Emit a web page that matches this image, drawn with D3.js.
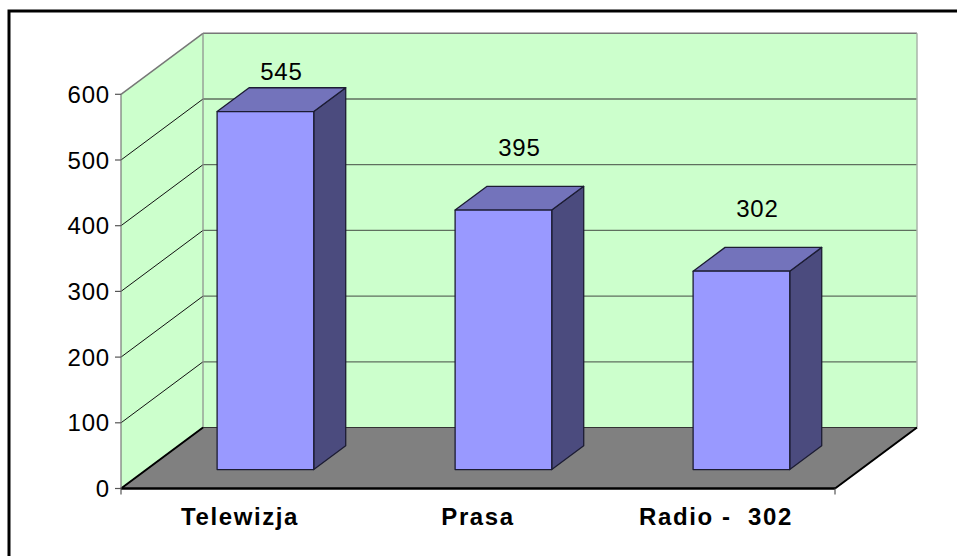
<!DOCTYPE html>
<html>
<head>
<meta charset="utf-8">
<script src="https://cdn.jsdelivr.net/npm/d3@7"></script>
<style>
  body { margin: 0; background: #fff; }
  svg text { font-family: Arial, "Liberation Sans", sans-serif; }
</style>
</head>
<body>
<div id="chart"></div>
<script>
const categories = ["Telewizja", "Prasa", "Radio -  302"];
const values = [545, 395, 302];
const yTicks = [0, 100, 200, 300, 400, 500, 600];

const width = 957, height = 556;
const front = { left: 121, right: 835, top: 94.3, bottom: 488.5 };
const depth = { dx: 82, dy: -61 };      // wall depth offset
const barDepth = [0.31, 0.70];           // bar front/back as fraction of depth

const svg = d3.select("#chart").append("svg")
  .attr("width", width)
  .attr("height", height);

// outer frame (runs past the right and bottom edge)
svg.append("rect")
  .attr("x", 9).attr("y", 11)
  .attr("width", 1000).attr("height", 600)
  .attr("fill", "none")
  .attr("stroke", "#000")
  .attr("stroke-width", 3);

const y = d3.scaleLinear()
  .domain([0, 600])
  .range([front.bottom, front.top]);

const x = d3.scaleBand()
  .domain(categories)
  .range([front.left, front.right])
  .paddingInner(0.594)
  .paddingOuter(0.297);

// project a point on the front plane back by fraction f of depth
const P = (px, py, f) => [px + depth.dx * f, py + depth.dy * f];
const poly = pts => pts.map(p => p.join(",")).join(" ");

// back wall
svg.append("polygon")
  .attr("points", poly([P(front.left, y(600), 1), P(front.right, y(600), 1),
                        P(front.right, y(0), 1), P(front.left, y(0), 1)]))
  .attr("fill", "#ccffcc");

// left wall
svg.append("polygon")
  .attr("points", poly([[front.left, y(600)], P(front.left, y(600), 1),
                        P(front.left, y(0), 1), [front.left, y(0)]]))
  .attr("fill", "#ccffcc");

// gridlines on back wall and left wall
yTicks.filter(t => t > 0).forEach(t => {
  const a = P(front.left, y(t), 1), b = P(front.right, y(t), 1);
  svg.append("line")
    .attr("x1", a[0]).attr("y1", a[1]).attr("x2", b[0]).attr("y2", b[1])
    .attr("stroke", t === 600 ? "#777" : "#5f6f5f")
    .attr("stroke-width", t === 600 ? 1.5 : 1.3);
  svg.append("line")
    .attr("x1", front.left).attr("y1", y(t)).attr("x2", a[0]).attr("y2", a[1])
    .attr("stroke", t === 600 ? "#777" : "#111")
    .attr("stroke-width", t === 600 ? 1.5 : 1);
});

// wall edges
const bl = P(front.left, y(600), 1), bl0 = P(front.left, y(0), 1);
svg.append("line")
  .attr("x1", bl[0]).attr("y1", bl[1]).attr("x2", bl0[0]).attr("y2", bl0[1])
  .attr("stroke", "#8a8a8a").attr("stroke-width", 1.2);
const br = P(front.right, y(600), 1), br0 = P(front.right, y(0), 1);
svg.append("line")
  .attr("x1", br[0]).attr("y1", br[1]).attr("x2", br0[0]).attr("y2", br0[1])
  .attr("stroke", "#aab5aa").attr("stroke-width", 1.5);

// floor
svg.append("polygon")
  .attr("points", poly([[front.left, y(0)], [front.right, y(0)],
                        P(front.right, y(0), 1), P(front.left, y(0), 1)]))
  .attr("fill", "#808080")
  .attr("stroke", "#333")
  .attr("stroke-width", 1);
svg.append("line")
  .attr("x1", front.left).attr("y1", y(0)).attr("x2", front.right).attr("y2", y(0))
  .attr("stroke", "#000").attr("stroke-width", 2.5);
svg.append("line")
  .attr("x1", front.right).attr("y1", y(0)).attr("x2", br0[0]).attr("y2", br0[1])
  .attr("stroke", "#000").attr("stroke-width", 2);
svg.append("line")
  .attr("x1", front.left).attr("y1", y(0)).attr("x2", bl0[0]).attr("y2", bl0[1])
  .attr("stroke", "#000").attr("stroke-width", 2);

// y axis
svg.append("line")
  .attr("x1", front.left).attr("y1", y(600)).attr("x2", front.left).attr("y2", y(0))
  .attr("stroke", "#777").attr("stroke-width", 1.2);
svg.selectAll(".ytick")
  .data(yTicks)
  .join("line")
  .attr("x1", front.left - 6).attr("x2", front.left)
  .attr("y1", d => y(d)).attr("y2", d => y(d))
  .attr("stroke", "#555").attr("stroke-width", 1.2);
svg.selectAll(".ylabel")
  .data(yTicks)
  .join("text")
  .attr("x", front.left - 11)
  .attr("y", d => y(d))
  .attr("dy", "0.36em")
  .attr("text-anchor", "end")
  .attr("font-size", "24px")
  .attr("letter-spacing", "0.8px")
  .text(d => d);

// category axis end ticks
[front.left, front.right].forEach(px => {
  svg.append("line")
    .attr("x1", px).attr("x2", px).attr("y1", y(0)).attr("y2", y(0) + 6)
    .attr("stroke", "#555").attr("stroke-width", 1.2);
});

// bars
const bars = svg.selectAll(".bar")
  .data(categories.map((c, i) => ({ c, v: values[i] })))
  .join("g")
  .attr("class", "bar");

const f0 = barDepth[0], f1 = barDepth[1];
bars.each(function (d) {
  const g = d3.select(this);
  const x0 = x(d.c), x1 = x(d.c) + x.bandwidth();
  const yb = y(0), yt = y(d.v);
  const ftl = P(x0, yt, f0), ftr = P(x1, yt, f0), fbr = P(x1, yb, f0), fbl = P(x0, yb, f0);
  const btl = P(x0, yt, f1), btr = P(x1, yt, f1), bbr = P(x1, yb, f1);
  g.append("polygon")
    .attr("points", poly([ftr, btr, bbr, fbr]))
    .attr("fill", "#4b4b7e").attr("stroke", "#1c1c33").attr("stroke-width", 1.3)
    .attr("stroke-linejoin", "round");
  g.append("polygon")
    .attr("points", poly([ftl, btl, btr, ftr]))
    .attr("fill", "#7373bb").attr("stroke", "#1c1c33").attr("stroke-width", 1.3)
    .attr("stroke-linejoin", "round");
  g.append("polygon")
    .attr("points", poly([ftl, ftr, fbr, fbl]))
    .attr("fill", "#9999ff").attr("stroke", "#1c1c33").attr("stroke-width", 1.3)
    .attr("stroke-linejoin", "round");

  // value label above the middle of the top face, kept inside the plot
  const mid = P((x0 + x1) / 2, yt, (f0 + f1) / 2);
  g.append("text")
    .attr("x", mid[0])
    .attr("y", Math.max(mid[1] - 51, 71.5))
    .attr("dy", "0.36em")
    .attr("text-anchor", "middle")
    .attr("font-size", "24px")
    .attr("letter-spacing", "0.8px")
    .text(d.v);
});

// category labels
svg.selectAll(".xlabel")
  .data(categories)
  .join("text")
  .attr("x", d => x(d) + x.bandwidth() / 2)
  .attr("y", 525)
  .attr("text-anchor", "middle")
  .attr("font-size", "24px")
  .attr("font-weight", "bold")
  .attr("letter-spacing", "1.6px")
  .style("white-space", "pre")
  .text(d => d);
</script>
</body>
</html>
